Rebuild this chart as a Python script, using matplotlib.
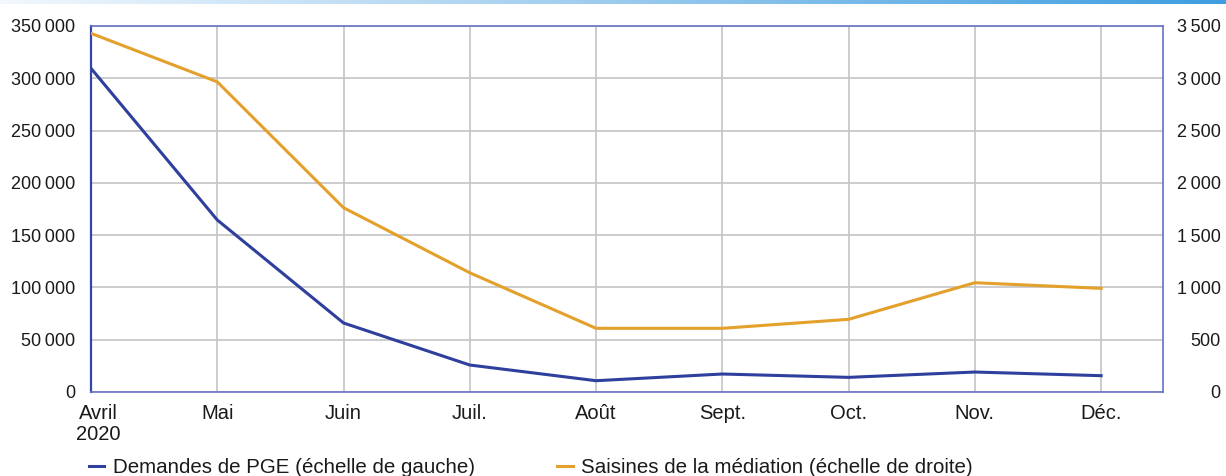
import matplotlib
matplotlib.use("Agg")
import matplotlib.pyplot as plt
import numpy as np
from matplotlib.lines import Line2D
from matplotlib.colors import LinearSegmentedColormap
from matplotlib.transforms import ScaledTranslation

plt.rcParams['font.family'] = ['Liberation Sans', 'DejaVu Sans']

months = ["Avril\n2020", "Mai", "Juin", "Juil.", "Août", "Sept.", "Oct.", "Nov.", "Déc."]
pge = [309500, 164500, 66000, 25800, 10800, 17200, 14000, 19100, 15600]
mediation = [3430, 2966, 1762, 1140, 609, 609, 695, 1045, 991]
left_ticks = [0, 50000, 100000, 150000, 200000, 250000, 300000, 350000]
right_ticks = [0, 500, 1000, 1500, 2000, 2500, 3000, 3500]

BLUE = "#2E3F9E"
ORANGE = "#E3A02A"
SPINE = "#6672C4"
GRID = "#C4C4C4"
TXT = "#1a1a1a"

def fmt(v):
    return f"{v:,}".replace(",", "\u2009")

W, H = 1226, 476
fig = plt.figure(figsize=(W / 100, H / 100), dpi=100)

# top gradient strip
gax = fig.add_axes([0, 1 - 4 / H, 1, 4 / H])
grad = np.linspace(0, 1, 256).reshape(1, -1)
cmap = LinearSegmentedColormap.from_list("g", ["#F2F8FD", "#9CCBEE", "#3E9EE0"])
gax.imshow(grad, aspect="auto", cmap=cmap, extent=[0, 1, 0, 1])
gax.set_axis_off()

ax = fig.add_axes([91 / W, 1 - 392 / H, (1163 - 91) / W, (392 - 26) / H])
x = np.arange(len(months))
ax.set_xlim(0, 8.49)
ax.set_ylim(0, 350000)
ax.set_yticks(left_ticks)
ax.set_yticklabels([fmt(v) for v in left_ticks], fontsize=13, color=TXT)
ax.set_xticks(x)
ax.set_xticklabels(months, fontsize=14.5, color=TXT, linespacing=1.15)
ax.tick_params(axis="both", length=0)
ax.tick_params(axis="y", pad=11.5)
ax.tick_params(axis="x", pad=8.5)
ax.grid(True, color=GRID, linewidth=1.2)
ax.set_axisbelow(True)
for s in ["top", "right", "bottom"]:
    ax.spines[s].set_color(SPINE)
    ax.spines[s].set_linewidth(1.2)
ax.spines["left"].set_color("#3444A8")
ax.spines["left"].set_linewidth(1.6)

ax.plot(x, pge, color=BLUE, linewidth=2.2, zorder=4)

ax2 = ax.twinx()
ax2.set_ylim(0, 3500)
ax2.set_yticks(right_ticks)
ax2.set_yticklabels([fmt(v) for v in right_ticks], fontsize=13, color=TXT, ha="right")
ax2.tick_params(axis="y", length=0, pad=41.5)
for s in ax2.spines.values():
    s.set_visible(False)
ax2.plot(x, mediation, color=ORANGE, linewidth=2.2, zorder=3)

# shift the first x label slightly to the right, as in the reference
first = ax.xaxis.get_major_ticks()[0].label1
first.set_transform(first.get_transform() + ScaledTranslation(7 / 100, 0, fig.dpi_scale_trans))

handles = [Line2D([0], [0], color=BLUE, linewidth=2.2),
           Line2D([0], [0], color=ORANGE, linewidth=2.2)]
labels = ["Demandes de PGE (échelle de gauche)", "Saisines de la médiation (échelle de droite)"]
fig.legend(handles, labels, loc="upper left", bbox_to_anchor=(89 / W, 1 - 458 / H),
           ncol=2, frameon=False, fontsize=14.8, handlelength=0.75, handletextpad=0.42,
           columnspacing=4.0, labelcolor=TXT, borderaxespad=0, borderpad=0)

fig.savefig("out.png", dpi=100)
